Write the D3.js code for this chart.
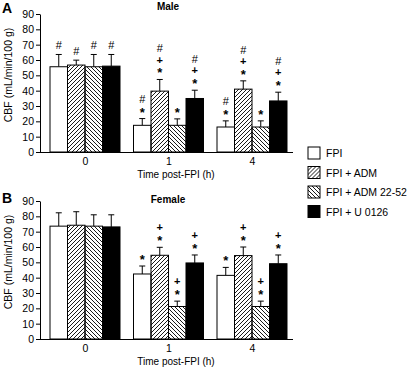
<!DOCTYPE html>
<html>
<head>
<meta charset="utf-8">
<script src="https://cdn.jsdelivr.net/npm/d3@7"></script>
<style>
  body { margin: 0; background: #fff; }
  text { font-family: "Liberation Sans", Arial, sans-serif; }
</style>
</head>
<body>
<div id="chart"></div>
<script>
const groups = ["0", "1", "4"];
const series = ["FPI", "FPI + ADM", "FPI + ADM 22-52", "FPI + U 0126"];
const yTicks = [0, 10, 20, 30, 40, 50, 60, 70, 80, 90];

// Male means / SEM (per series, one value per time point)
const maleFPI = [55.6, 17.4, 16.3];
const maleADM = [56.7, 39.7, 41.0];
const maleADM2252 = [55.6, 17.4, 16.3];
const maleU0126 = [56.0, 34.9, 33.3];
const maleFPIErr = [8.0, 4.4, 4.0];
const maleADMErr = [3.2, 7.6, 5.4];
const maleADM2252Err = [8.0, 4.2, 4.0];
const maleU0126Err = [7.6, 5.4, 5.7];
// significance marks, read top to bottom
const maleFPIMarks = ["#", "#*", "#*"];
const maleADMMarks = ["#", "#+*", "#+*"];
const maleADM2252Marks = ["#", "*", "*"];
const maleU0126Marks = ["#", "#+*", "#+*"];

// Female
const femaleFPI = [73.6, 42.4, 41.5];
const femaleADM = [74.2, 54.6, 54.4];
const femaleADM2252 = [73.6, 21.2, 21.2];
const femaleU0126 = [73.1, 49.6, 49.1];
const femaleFPIErr = [8.7, 5.2, 5.2];
const femaleADMErr = [8.8, 5.2, 5.6];
const femaleADM2252Err = [7.4, 3.5, 3.5];
const femaleU0126Err = [7.9, 5.2, 5.7];
const femaleFPIMarks = ["", "*", "*"];
const femaleADMMarks = ["", "+*", "+*"];
const femaleADM2252Marks = ["", "+*", "+*"];
const femaleU0126Marks = ["", "+*", "+*"];

const W = 411, H = 369;
const svg = d3.select("#chart").append("svg")
    .attr("width", W).attr("height", H);

// hatch patterns
const defs = svg.append("defs");
defs.append("pattern")
    .attr("id", "fwd").attr("patternUnits", "userSpaceOnUse")
    .attr("width", 4).attr("height", 4)
    .append("path")
    .attr("d", "M-1,1 l2,-2 M0,4 l4,-4 M3,5 l2,-2")
    .attr("stroke", "#000").attr("stroke-width", 0.9);
defs.append("pattern")
    .attr("id", "back").attr("patternUnits", "userSpaceOnUse")
    .attr("width", 4).attr("height", 4)
    .append("path")
    .attr("d", "M-1,3 l2,2 M0,0 l4,4 M3,-1 l2,2")
    .attr("stroke", "#000").attr("stroke-width", 0.9);

const fills = ["#fff", "url(#fwd)", "url(#back)", "#000"];

const x0 = d3.scalePoint().domain(groups).range([85, 252]);
const x1 = d3.scaleBand().domain(series).range([-35, 35]).padding(0);

const symDy = { "#": 3.5, "+": 3.6, "*": 6.5 };

function drawPanel(top, letter, letterY, title, titleY, means, errs, marks) {
    const y = d3.scaleLinear().domain([0, 90]).range([top + 138, top]);
    const g = svg.append("g");

    // bars
    series.forEach((s, si) => {
        groups.forEach((grp, gi) => {
            const bx = x0(grp) + x1(s);
            const v = means[si][gi], e = errs[si][gi];
            const cx = bx + x1.bandwidth() / 2;
            // error bar (upper only)
            g.append("line")
                .attr("x1", cx).attr("x2", cx)
                .attr("y1", y(v)).attr("y2", y(v + e))
                .attr("stroke", "#000").attr("stroke-width", 1);
            g.append("line")
                .attr("x1", cx - 3).attr("x2", cx + 3)
                .attr("y1", y(v + e)).attr("y2", y(v + e))
                .attr("stroke", "#000").attr("stroke-width", 1);
            g.append("rect")
                .attr("x", bx).attr("y", y(v))
                .attr("width", x1.bandwidth()).attr("height", y(0) - y(v))
                .attr("fill", fills[si])
                .attr("stroke", "#000").attr("stroke-width", 1);
            // marks, stacked upward from the error cap
            const m = marks[si][gi].split("").reverse();
            m.forEach((c, k) => {
                const cy = y(v + e) - 8.5 - k * 11;
                g.append("text")
                    .attr("x", cx).attr("y", cy + symDy[c])
                    .attr("text-anchor", "middle")
                    .style("font-size", c === "*" ? "13px" : "11px")
                    .style("font-weight", c === "#" ? "normal" : "bold")
                    .text(c);
            });
        });
    });

    // y axis
    g.append("g")
        .attr("transform", "translate(40,0)")
        .call(d3.axisLeft(y).tickValues(yTicks).tickSize(4).tickSizeOuter(0).tickPadding(2))
        .call(a => a.selectAll("text").style("font-size", "10.5px")
            .style("font-family", "Liberation Sans, Arial, sans-serif"))
        .call(a => a.selectAll("path,line").attr("stroke", "#000"));

    // x axis
    const xAxis = d3.axisBottom(x0).tickSize(0).tickPadding(6);
    g.append("g")
        .attr("transform", `translate(0,${y(0)})`)
        .call(xAxis)
        .call(a => a.select(".domain").attr("d", `M40,0.5H293`).attr("stroke", "#000"))
        .call(a => a.selectAll("text").style("font-size", "10.5px")
            .style("font-family", "Liberation Sans, Arial, sans-serif"));

    g.append("text")
        .attr("x", 176).attr("y", y(0) + 26)
        .attr("text-anchor", "middle")
        .style("font-size", "10px")
        .text("Time post-FPI (h)");

    g.append("text")
        .attr("transform", `translate(12,${top + 69 - 8}) rotate(-90)`)
        .attr("text-anchor", "middle")
        .style("font-size", "10.5px")
        .text("CBF (mL/min/100 g)");

    g.append("text")
        .attr("x", 2).attr("y", letterY)
        .style("font-size", "14px").style("font-weight", "bold")
        .text(letter);

    g.append("text")
        .attr("x", 168).attr("y", titleY)
        .attr("text-anchor", "middle")
        .style("font-size", "10px").style("font-weight", "bold")
        .text(title);
}

drawPanel(14, "A", 13, "Male", 10,
    [maleFPI, maleADM, maleADM2252, maleU0126],
    [maleFPIErr, maleADMErr, maleADM2252Err, maleU0126Err],
    [maleFPIMarks, maleADMMarks, maleADM2252Marks, maleU0126Marks]);
drawPanel(201, "B", 203, "Female", 203,
    [femaleFPI, femaleADM, femaleADM2252, femaleU0126],
    [femaleFPIErr, femaleADMErr, femaleADM2252Err, femaleU0126Err],
    [femaleFPIMarks, femaleADMMarks, femaleADM2252Marks, femaleU0126Marks]);

// legend
const legend = svg.append("g").attr("transform", "translate(308,147)");
const items = legend.selectAll("g").data(series).enter().append("g")
    .attr("transform", (d, i) => `translate(0,${i * 19.5})`);
items.append("rect")
    .attr("width", 12).attr("height", 12)
    .attr("fill", (d, i) => fills[i])
    .attr("stroke", "#000").attr("stroke-width", 1);
items.append("text")
    .attr("x", 18).attr("y", 10)
    .style("font-size", "10.5px")
    .text(d => d);
</script>
</body>
</html>
